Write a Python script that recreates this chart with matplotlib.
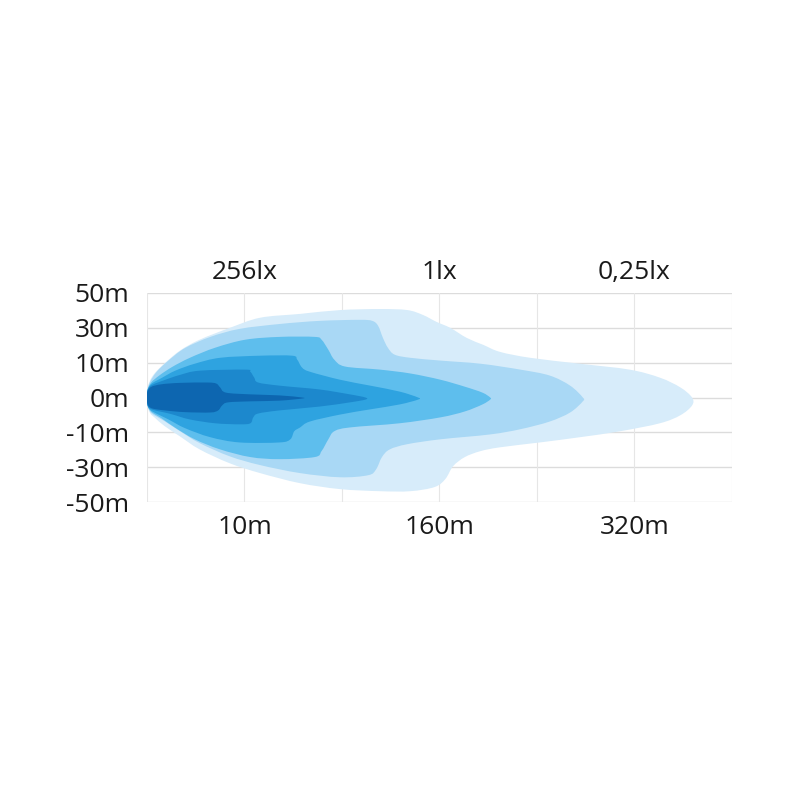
import numpy as np
import matplotlib
matplotlib.use("Agg")
import matplotlib.pyplot as plt
from matplotlib.path import Path
from matplotlib.patches import PathPatch

plt.rcParams['font.family'] = ['Open Sans', 'DejaVu Sans']

# ---------- axis labels ----------
y_labels = ["-50m", "-30m", "-10m", "0m", "10m", "30m", "50m"]
dist_labels = ["10m", "160m", "320m"]
lux_labels = ["256lx", "1lx", "0,25lx"]

# ---------- isolux outlines (grid units: x = column, y = row from centre) ----------
# outermost / lightest first
l1_x = [0, 0, 0.03, 0.08, 0.18, 0.34, 0.54, 0.85, 1.16, 1.57, 1.98, 2.39, 2.67, 2.83, 2.97,
        3.11, 3.28, 3.45, 3.62, 3.93, 4.44, 4.95, 5.26, 5.47, 5.59,
        5.59, 5.47, 5.26, 4.85, 4.44, 4.03, 3.62, 3.42, 3.26, 3.14, 3.06, 2.95, 2.70,
        2.39, 1.98, 1.57, 1.16, 0.85, 0.54, 0.34, 0.18, 0.08, 0.03]
l1_y = [-0.18, 0.18, 0.48, 0.70, 0.98, 1.35, 1.66, 2.00, 2.29, 2.40, 2.51, 2.54, 2.51, 2.37, 2.17,
        2.00, 1.71, 1.51, 1.31, 1.14, 0.97, 0.80, 0.57, 0.29, 0,
        -0.23, -0.51, -0.74, -0.97, -1.14, -1.29, -1.43, -1.54, -1.71, -1.97, -2.34, -2.57, -2.69,
        -2.69, -2.63, -2.46, -2.17, -1.89, -1.49, -1.12, -0.82, -0.58, -0.44]

l2_x = [0, 0, 0.03, 0.10, 0.22, 0.39, 0.65, 0.95, 1.36, 1.77, 2.18, 2.31, 2.37, 2.42, 2.47,
        2.54, 2.70, 3.01, 3.42, 3.83, 4.13, 4.34, 4.47,
        4.47, 4.34, 4.13, 3.83, 3.52, 3.01, 2.67, 2.49, 2.41, 2.35, 2.27, 1.98, 1.57,
        1.16, 0.85, 0.54, 0.34, 0.18, 0.08, 0.03]
l2_y = [-0.17, 0.17, 0.44, 0.74, 1.06, 1.42, 1.74, 1.97, 2.11, 2.20, 2.23, 2.20, 2.06, 1.71, 1.43,
        1.23, 1.14, 1.06, 0.97, 0.80, 0.63, 0.34, 0,
        -0.11, -0.43, -0.69, -0.91, -1.06, -1.20, -1.34, -1.49, -1.71, -2.06, -2.23, -2.29, -2.17,
        -1.94, -1.69, -1.31, -0.97, -0.68, -0.52, -0.40]

l3_x = [0, 0, 0.04, 0.13, 0.26, 0.44, 0.70, 1.01, 1.36, 1.72, 1.79, 1.86, 1.92, 2.03, 2.39,
        2.70, 3.01, 3.26, 3.44, 3.52,
        3.52, 3.44, 3.26, 3.01, 2.59, 2.08, 1.92, 1.86, 1.79, 1.72, 1.36, 1.06, 0.75,
        0.49, 0.29, 0.15, 0.04]
l3_y = [-0.16, 0.16, 0.42, 0.64, 0.88, 1.14, 1.43, 1.66, 1.74, 1.74, 1.66, 1.37, 1.09, 0.89, 0.80,
        0.69, 0.51, 0.31, 0.14, 0,
        -0.06, -0.20, -0.40, -0.57, -0.74, -0.86, -0.97, -1.20, -1.54, -1.71, -1.77, -1.71, -1.49,
        -1.20, -0.87, -0.60, -0.40]

l4_x = [0, 0, 0.04, 0.15, 0.29, 0.49, 0.75, 1.16, 1.49, 1.54, 1.59, 1.67, 1.98, 2.29, 2.59, 2.78,
        2.78, 2.59, 2.29, 1.98, 1.67, 1.57, 1.51, 1.47, 1.36, 0.95, 0.65, 0.39, 0.22, 0.04]
l4_y = [-0.15, 0.15, 0.38, 0.56, 0.77, 0.97, 1.14, 1.20, 1.20, 1.09, 0.86, 0.74, 0.51, 0.34, 0.17, 0,
        -0.06, -0.20, -0.34, -0.49, -0.69, -0.86, -0.97, -1.20, -1.29, -1.29, -1.14, -0.88, -0.63, -0.37]

l5_x = [0, 0, 0.04, 0.18, 0.34, 0.54, 1.01, 1.06, 1.10, 1.14, 1.36, 1.77, 2.08, 2.24,
        2.24, 2.08, 1.77, 1.36, 1.14, 1.09, 1.06, 0.95, 0.70, 0.44, 0.24, 0.04]
l5_y = [-0.14, 0.14, 0.34, 0.50, 0.65, 0.77, 0.80, 0.74, 0.57, 0.43, 0.34, 0.23, 0.09, 0,
        -0.06, -0.14, -0.26, -0.37, -0.46, -0.57, -0.74, -0.77, -0.74, -0.63, -0.47, -0.33]

l6_x = [0, 0, 0.04, 0.15, 0.34, 0.62, 0.71, 0.75, 0.81, 1.06, 1.36, 1.59,
        1.59, 1.36, 1.06, 0.83, 0.77, 0.73, 0.65, 0.39, 0.18, 0.04]
l6_y = [-0.13, 0.13, 0.30, 0.38, 0.42, 0.43, 0.40, 0.29, 0.14, 0.09, 0.06, 0,
        -0.03, -0.09, -0.11, -0.14, -0.23, -0.37, -0.43, -0.42, -0.37, -0.30]

outlines = [(l1_x, l1_y), (l2_x, l2_y), (l3_x, l3_y),
            (l4_x, l4_y), (l5_x, l5_y), (l6_x, l6_y)]
colors = ["#d7ecfa", "#a9d8f5", "#5ebeed", "#2ea3e0", "#1c88cd", "#0d66b0"]


def smooth_path(xs, ys, tension=1 / 6):
    # closed Catmull-Rom curve turned into cubic Bezier segments
    pts = np.column_stack([xs, ys])
    n = len(pts)
    verts = [pts[0]]
    codes = [Path.MOVETO]
    for i in range(n):
        p0, p1, p2, p3 = pts[i - 1], pts[i], pts[(i + 1) % n], pts[(i + 2) % n]
        c1 = p1 + (p2 - p0) * tension
        c2 = p2 - (p3 - p1) * tension
        verts += [c1, c2, p2]
        codes += [Path.CURVE4] * 3
    return Path(verts, codes)


# ---------- Plot ----------
fig = plt.figure(figsize=(8, 8), dpi=100)
ax = fig.add_axes([0.18375, 0.3725, 0.73125, 0.26125])
ax.set_xlim(0, 6)
ax.set_ylim(-3, 3)

for k in range(7):
    ax.axhline(k - 3, color="#dcdcdc", lw=1, zorder=0)
for k in range(7):
    ax.axvline(k, color="#e6e6e6", lw=0.8, zorder=0)

for (xs, ys), c in zip(outlines, colors):
    ax.add_patch(PathPatch(smooth_path(xs, ys), facecolor=c, edgecolor="none", zorder=2))

for s in ax.spines.values():
    s.set_visible(False)

ax.set_yticks(range(-3, 4))
ax.set_yticklabels(y_labels, fontweight="medium")
ax.set_xticks([1, 3, 5])
ax.set_xticklabels(dist_labels, fontweight="medium")
ax.tick_params(axis="both", length=0, labelsize=19, labelcolor="#1a1a1a")
ax.tick_params(axis="y", pad=13)
ax.tick_params(axis="x", pad=9)

top = ax.secondary_xaxis("top")
top.set_xticks([1, 3, 5])
top.set_xticklabels(lux_labels, fontweight="medium")
top.tick_params(length=0, labelsize=19, labelcolor="#1a1a1a", pad=6)
for s in top.spines.values():
    s.set_visible(False)

fig.savefig("out.png", dpi=100, facecolor="white")
